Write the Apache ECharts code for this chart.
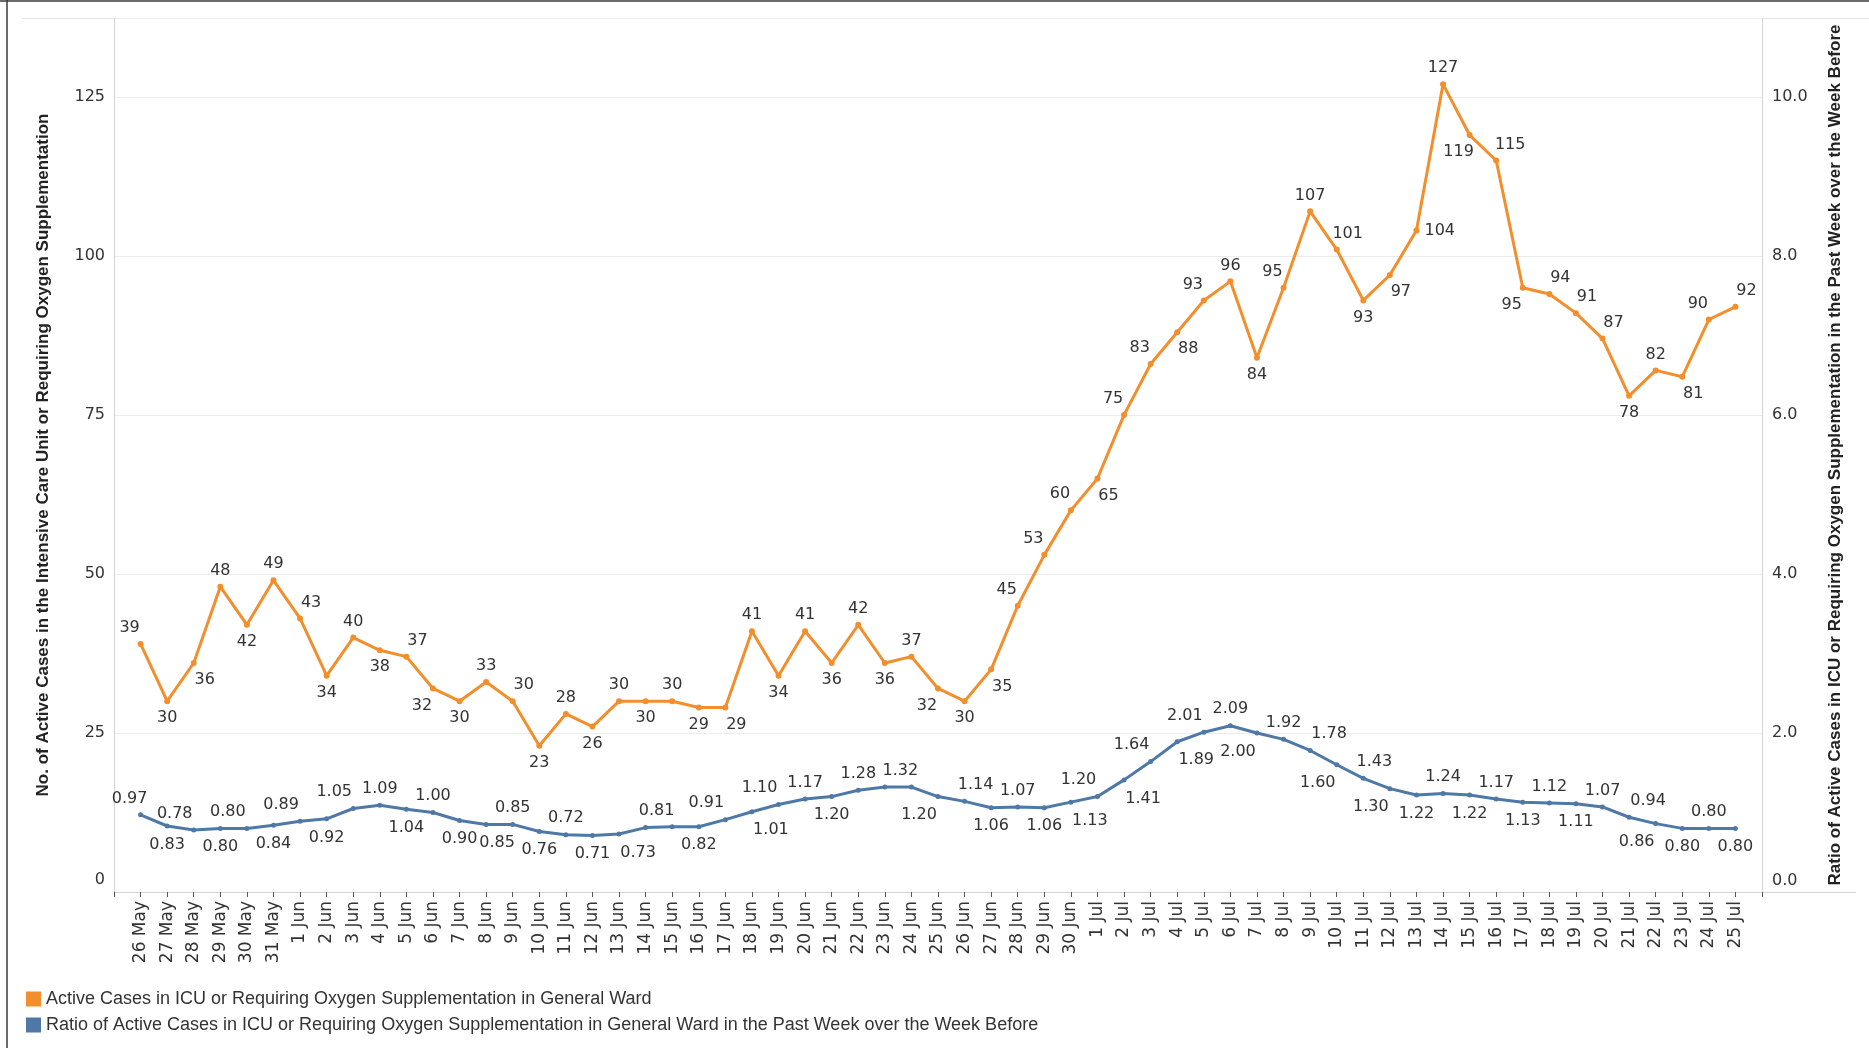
<!DOCTYPE html>
<html><head><meta charset="utf-8">
<script src="https://cdn.jsdelivr.net/npm/echarts@6/dist/echarts.min.js"></script>
<style>html,body{margin:0;padding:0;background:#fff}#c{width:1869px;height:1048px}</style>
</head><body><div id="c"></div>
<script>
const categories = ['26 May','27 May','28 May','29 May','30 May','31 May',
  '1 Jun','2 Jun','3 Jun','4 Jun','5 Jun','6 Jun','7 Jun','8 Jun','9 Jun','10 Jun',
  '11 Jun','12 Jun','13 Jun','14 Jun','15 Jun','16 Jun','17 Jun','18 Jun','19 Jun','20 Jun',
  '21 Jun','22 Jun','23 Jun','24 Jun','25 Jun','26 Jun','27 Jun','28 Jun','29 Jun','30 Jun',
  '1 Jul','2 Jul','3 Jul','4 Jul','5 Jul','6 Jul','7 Jul','8 Jul','9 Jul','10 Jul',
  '11 Jul','12 Jul','13 Jul','14 Jul','15 Jul','16 Jul','17 Jul','18 Jul','19 Jul','20 Jul',
  '21 Jul','22 Jul','23 Jul','24 Jul','25 Jul'];

const activeCases = [39,30,36,48,42,49,43,34,40,38,37,32,30,33,30,23,28,26,30,30,
  30,29,29,41,34,41,36,42,36,37,32,30,35,45,53,60,65,75,83,88,
  93,96,84,95,107,101,93,97,104,127,119,115,95,94,91,87,78,82,81,90,92];

const weeklyRatio = [0.97,0.83,0.78,0.80,0.80,0.84,0.89,0.92,1.05,1.09,1.04,1.00,0.90,0.85,0.85,0.76,0.72,0.71,0.73,0.81,
  0.82,0.82,0.91,1.01,1.10,1.17,1.20,1.28,1.32,1.32,1.20,1.14,1.06,1.07,1.06,1.13,1.20,1.41,1.64,1.89,
  2.01,2.09,2.00,1.92,1.78,1.60,1.43,1.30,1.22,1.24,1.22,1.17,1.13,1.12,1.11,1.07,0.94,0.86,0.80,0.80,0.80];

const leftTicks = [0,25,50,75,100,125];
const rightTicks = [0,2,4,6,8,10];

const seriesNames = [
  'Active Cases in ICU or Requiring Oxygen Supplementation in General Ward',
  'Ratio of Active Cases in ICU or Requiring Oxygen Supplementation in General Ward in the Past Week over the Week Before'
];
const leftTitle = 'No. of Active Cases in the Intensive Care Unit or Requiring Oxygen Supplementation';
const rightTitle = 'Ratio of Active Cases in ICU or Requiring Oxygen Supplementation in the Past Week over the Week Before';

// label placement codes (style only):
// A top, Q top-left, K top-far-left, W top-right, V top-far-right, E top-right(14)
// B bottom, X bottom-left, J bottom-far-left, Y bottom-right, Z bottom-far-right, R right, H hidden
const orangeSides = 'QBYABAWBAB' + 'WXBAWBABAB' + 'ABYABABABA' + 'XBYQQQYQQY' + 'QABQAWBYRA' + 'XEXWWWBAYQ' + 'W';
const blueSides   = 'QBKBKBKBKA' + 'BABYABABZW' + 'HBKZKABAHQ' + 'JWBABZKZKZ' + 'KAJAVJWJBA' + 'BABABAVJBA' + 'B';

const ORANGE = '#F28E2B', BLUE = '#4E79A7';
const TXT = '#333333';
const LABEL_FONT = 'DejaVu Sans';

const PLACE = {
  A: ['top', 0], Q: ['top', -11], K: ['top', -19], W: ['top', 11], V: ['top', 19], E: ['top', 14],
  B: ['bottom', 0], X: ['bottom', -11], J: ['bottom', -19], Y: ['bottom', 11], Z: ['bottom', 19]
};
function labelFor(code, dTop, dBottom) {
  if (code === 'H') return {show: false};
  if (code === 'R') return {show: true, position: 'right', distance: 5};
  const p = PLACE[code];
  return {show: true, position: p[0], distance: p[0] === 'top' ? dTop : dBottom, offset: [p[1], 0]};
}

const GRID = {left: 114, right: 107, top: 18, bottom: 156};
const leftMax = 137.4;
const rightMax = leftMax / 12.5;

const chart = echarts.init(document.getElementById('c'), null, {renderer: 'canvas'});
chart.setOption({
  animation: false,
  backgroundColor: '#ffffff',
  grid: GRID,
  legend: {
    orient: 'vertical', left: 26, top: 990, itemWidth: 15, itemHeight: 15, itemGap: 8,
    icon: 'rect', padding: 0,
    textStyle: {fontFamily: 'Liberation Sans', fontSize: 18, color: TXT},
    data: seriesNames
  },
  xAxis: {
    type: 'value', min: -1, max: 61, interval: 1,
    axisLine: {show: true, onZero: false, lineStyle: {color: '#d4d4d4', width: 1}},
    axisTick: {show: true, length: 5, lineStyle: {color: '#555', width: 1}},
    splitLine: {show: false},
    axisLabel: {
      rotate: 90, margin: 9, fontFamily: LABEL_FONT, fontSize: 17, color: TXT,
      formatter: v => (v >= 0 && v < categories.length) ? categories[v] : ''
    }
  },
  yAxis: [{
    type: 'value', min: leftTicks[0], max: leftMax, interval: leftTicks[1] - leftTicks[0],
    position: 'left',
    name: leftTitle, nameLocation: 'middle', nameRotate: 90, nameGap: 62,
    nameTextStyle: {fontFamily: 'Liberation Sans', fontWeight: 'bold', fontSize: 17, color: '#222'},
    axisLine: {show: true, onZero: false, lineStyle: {color: '#d4d4d4'}},
    axisTick: {show: false},
    splitLine: {show: true, lineStyle: {color: '#ececec', width: 1}},
    axisLabel: {
      showMaxLabel: false, margin: 9, fontFamily: LABEL_FONT, fontSize: 16, color: TXT,
      formatter: v => v === 0 ? '{z|0}' : String(v),
      rich: {z: {fontFamily: LABEL_FONT, fontSize: 16, color: TXT, padding: [0, 0, 24, 0]}}
    }
  }, {
    type: 'value', min: rightTicks[0], max: rightMax, interval: rightTicks[1] - rightTicks[0],
    position: 'right',
    name: rightTitle, nameLocation: 'middle', nameRotate: 90, nameGap: 65,
    nameTextStyle: {fontFamily: 'Liberation Sans', fontWeight: 'bold', fontSize: 17, color: '#222'},
    axisLine: {show: true, onZero: false, lineStyle: {color: '#d4d4d4'}},
    axisTick: {show: false},
    splitLine: {show: false},
    axisLabel: {
      showMaxLabel: false, margin: 10, fontFamily: LABEL_FONT, fontSize: 16, color: TXT,
      formatter: v => v === 0 ? '{z|0.0}' : v.toFixed(1),
      rich: {z: {fontFamily: LABEL_FONT, fontSize: 16, color: TXT, padding: [0, 0, 22, 0]}}
    }
  }],
  series: [{
    name: seriesNames[0], type: 'line', yAxisIndex: 0, z: 3,
    color: ORANGE,
    lineStyle: {width: 3, color: ORANGE},
    symbol: 'circle', symbolSize: 6, itemStyle: {color: ORANGE},
    label: {show: true, fontFamily: LABEL_FONT, fontSize: 16, color: TXT, formatter: p => String(p.value[1])},
    data: activeCases.map((v, i) => ({value: [i, v], label: labelFor(orangeSides[i], 5, 6)}))
  }, {
    name: seriesNames[1], type: 'line', yAxisIndex: 1, z: 2,
    color: BLUE,
    lineStyle: {width: 3, color: BLUE},
    symbol: 'circle', symbolSize: 5, itemStyle: {color: BLUE},
    label: {show: true, fontFamily: LABEL_FONT, fontSize: 16, color: TXT, formatter: p => p.value[1].toFixed(2)},
    data: weeklyRatio.map((v, i) => ({value: [i, v], label: labelFor(blueSides[i], 6, 8)}))
  }],
  graphic: [
    {type: 'line', silent: true, shape: {x1: 7, y1: 0, x2: 7, y2: 1048}, style: {stroke: '#3a3a3a', lineWidth: 1.5}},
    {type: 'line', silent: true, shape: {x1: 0, y1: 1, x2: 1869, y2: 1}, style: {stroke: '#3a3a3a', lineWidth: 1.5}},
    {type: 'line', silent: true, shape: {x1: 22, y1: 18.5, x2: 1869, y2: 18.5}, style: {stroke: '#e4e4e4', lineWidth: 1}},
    {type: 'line', silent: true, shape: {x1: 1762, y1: 892.5, x2: 1856, y2: 892.5}, style: {stroke: '#d4d4d4', lineWidth: 1}}
  ]
});
</script>
</body></html>
